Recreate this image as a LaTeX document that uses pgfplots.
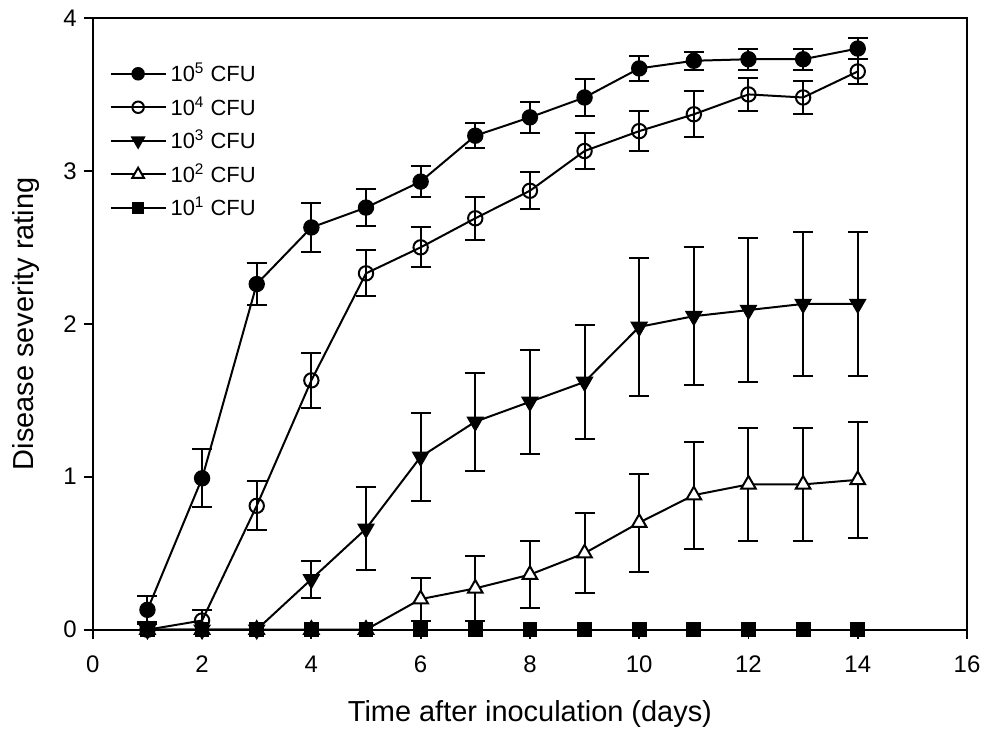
\documentclass[border=0pt]{standalone}
\usepackage{pgfplots}
\pgfplotsset{compat=1.18}
\usepackage{fontspec}
\setmainfont{Liberation Sans}
\pgfplotstableread{
x y e
1 0.13 0.09
2 0.99 0.19
3 2.26 0.14
4 2.63 0.16
5 2.76 0.12
6 2.93 0.10
7 3.23 0.08
8 3.35 0.10
9 3.48 0.12
10 3.67 0.08
11 3.72 0.06
12 3.73 0.07
13 3.73 0.07
14 3.80 0.07
}\tfive
\pgfplotstableread{
x y e
1 0.00 0.05
2 0.06 0.07
3 0.81 0.16
4 1.63 0.18
5 2.33 0.15
6 2.50 0.13
7 2.69 0.14
8 2.87 0.12
9 3.13 0.12
10 3.26 0.13
11 3.37 0.15
12 3.50 0.11
13 3.48 0.11
14 3.65 0.08
}\tfour
\pgfplotstableread{
x y e
1 0.00 0.00
2 0.00 0.00
3 0.00 0.00
4 0.33 0.12
5 0.66 0.27
6 1.13 0.29
7 1.36 0.32
8 1.49 0.34
9 1.62 0.37
10 1.98 0.45
11 2.05 0.45
12 2.09 0.47
13 2.13 0.47
14 2.13 0.47
}\tthree
\pgfplotstableread{
x y e
1 0.00 0.00
2 0.00 0.00
3 0.00 0.00
4 0.00 0.00
5 0.00 0.00
6 0.20 0.14
7 0.27 0.21
8 0.36 0.22
9 0.50 0.26
10 0.70 0.32
11 0.88 0.35
12 0.95 0.37
13 0.95 0.37
14 0.98 0.38
}\ttwo
\pgfplotstableread{
x y e
1 0 0
2 0 0
3 0 0
4 0 0
5 0 0
6 0 0
7 0 0
8 0 0
9 0 0
10 0 0
11 0 0
12 0 0
13 0 0
14 0 0
}\tone
\begin{document}
\begin{tikzpicture}
\begin{axis}[
  scale only axis,
  width=438pt, height=306.5pt,
  xmin=0, xmax=16, ymin=0, ymax=4,
  xtick={0,2,...,16}, ytick={0,1,2,3,4},
  tick align=outside, tick pos=left,
  major tick length=4.5pt,
  axis line style={line width=0.9pt},
  tick style={line width=0.9pt, black},
  /pgf/number format/assume math mode=true,
  ticklabel style={font=\fontsize{12}{14}\selectfont},
  xticklabel shift=5pt,
  xlabel={Time after inoculation (days)},
  ylabel={Disease severity rating},
  label style={font=\fontsize{14.5}{17}\selectfont},
  xlabel style={yshift=-7pt},
  ylabel style={yshift=5pt},
  legend style={draw=none, fill=none, at={(0.012,0.94)}, anchor=north west,
    font=\fontsize{11}{13}\selectfont, row sep=2pt},
  legend cell align=left,
  legend image code/.code={
    \draw[line width=1pt] (0pt,0pt) -- (27.5pt,0pt);
    \draw[#1, every mark/.append style={scale=0.8}] plot coordinates {(13.75pt,0pt)};
  },
  every axis plot/.append style={line width=1pt, black},
  error bars/y dir=both, error bars/y explicit,
  error bars/error mark options={rotate=90, mark size=5pt, line width=1pt, black},
  error bars/error bar style={line width=1pt, black},
]
\addplot[mark=*, mark size=3.6pt, mark options={fill=black, solid}] table[x=x, y=y, y error=e] {\tfive};
\addlegendentry{10\textsuperscript{5} CFU}
\addplot[mark=o, mark size=3.6pt, mark options={fill=white, solid}] table[x=x, y=y, y error=e] {\tfour};
\addlegendentry{10\textsuperscript{4} CFU}
\addplot[mark=triangle*, mark size=4.2pt, mark options={fill=black, solid, rotate=180}] table[x=x, y=y, y error=e] {\tthree};
\addlegendentry{10\textsuperscript{3} CFU}
\addplot[mark=triangle*, mark size=4.2pt, mark options={fill=white, solid}] table[x=x, y=y, y error=e] {\ttwo};
\addlegendentry{10\textsuperscript{2} CFU}
\addplot[mark=square*, mark size=3.2pt, mark options={fill=black, solid}] table[x=x, y=y, y error=e] {\tone};
\addlegendentry{10\textsuperscript{1} CFU}
\end{axis}
\path (current axis.south west) ++(-46.5pt,-50pt) coordinate (bbA);
\path (current axis.north east) ++(9pt,9pt) coordinate (bbB);
\path[use as bounding box] (bbA) rectangle (bbB);
\end{tikzpicture}
\end{document}
